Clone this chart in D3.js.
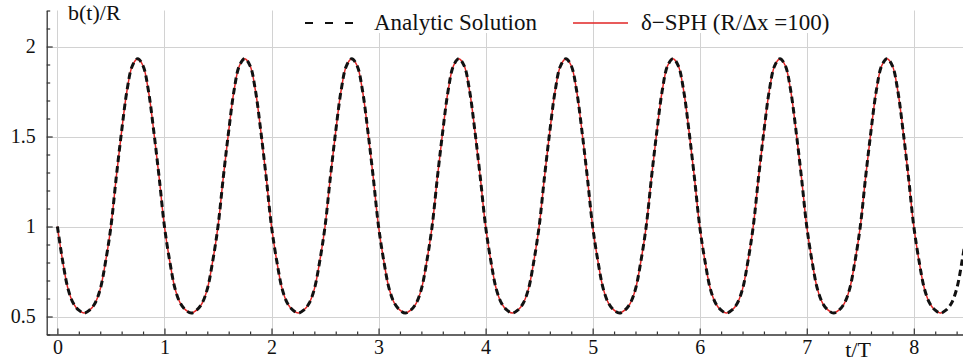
<!DOCTYPE html>
<html>
<head>
<meta charset="utf-8">
<script src="https://cdn.jsdelivr.net/npm/d3@7"></script>
<style>
  body { margin: 0; background: #fff; }
  svg { display: block; }
  text { font-family: "Liberation Serif", "Times New Roman", serif; fill: #111; }
</style>
</head>
<body>
<svg id="chart" width="963" height="363"></svg>
<script>
// Non-dimensional time step between samples (t/T)
const sampleStep = 0.05;

// b(t)/R, analytic solution, one row per period (t/T = k ... k+0.95)
const analyticB = [
  [1.000,0.805,0.652,0.572,0.535,0.519,0.535,0.572,0.652,0.805,1.000,1.275,1.530,1.755,1.893,1.932,1.893,1.755,1.530,1.275],
  [1.000,0.805,0.652,0.572,0.535,0.519,0.535,0.572,0.652,0.805,1.000,1.275,1.530,1.755,1.893,1.932,1.893,1.755,1.530,1.275],
  [1.000,0.805,0.652,0.572,0.535,0.519,0.535,0.572,0.652,0.805,1.000,1.275,1.530,1.755,1.893,1.932,1.893,1.755,1.530,1.275],
  [1.000,0.805,0.652,0.572,0.535,0.519,0.535,0.572,0.652,0.805,1.000,1.275,1.530,1.755,1.893,1.932,1.893,1.755,1.530,1.275],
  [1.000,0.805,0.652,0.572,0.535,0.519,0.535,0.572,0.652,0.805,1.000,1.275,1.530,1.755,1.893,1.932,1.893,1.755,1.530,1.275],
  [1.000,0.805,0.652,0.572,0.535,0.519,0.535,0.572,0.652,0.805,1.000,1.275,1.530,1.755,1.893,1.932,1.893,1.755,1.530,1.275],
  [1.000,0.805,0.652,0.572,0.535,0.519,0.535,0.572,0.652,0.805,1.000,1.275,1.530,1.755,1.893,1.932,1.893,1.755,1.530,1.275],
  [1.000,0.805,0.652,0.572,0.535,0.519,0.535,0.572,0.652,0.805,1.000,1.275,1.530,1.755,1.893,1.932,1.893,1.755,1.530,1.275],
  [1.000,0.805,0.652,0.572,0.535,0.519,0.535,0.572,0.652,0.805,1.000]
].flat();

// b(t)/R, delta-SPH run with R/dx = 100 (ends at t/T = 8.3)
const sphB = [
  [1.000,0.805,0.652,0.572,0.535,0.519,0.535,0.572,0.652,0.805,1.000,1.275,1.530,1.755,1.893,1.932,1.893,1.755,1.530,1.275],
  [1.000,0.805,0.652,0.572,0.535,0.519,0.535,0.572,0.652,0.805,1.000,1.275,1.530,1.755,1.893,1.932,1.893,1.755,1.530,1.275],
  [1.000,0.805,0.652,0.572,0.535,0.519,0.535,0.572,0.652,0.805,1.000,1.275,1.530,1.755,1.893,1.932,1.893,1.755,1.530,1.275],
  [1.000,0.805,0.652,0.572,0.535,0.519,0.535,0.572,0.652,0.805,1.000,1.275,1.530,1.755,1.893,1.932,1.893,1.755,1.530,1.275],
  [1.000,0.805,0.652,0.572,0.535,0.519,0.535,0.572,0.652,0.805,1.000,1.275,1.530,1.755,1.893,1.932,1.893,1.755,1.530,1.275],
  [1.000,0.805,0.652,0.572,0.535,0.519,0.535,0.572,0.652,0.805,1.000,1.275,1.530,1.755,1.893,1.932,1.893,1.755,1.530,1.275],
  [1.000,0.805,0.652,0.572,0.535,0.519,0.535,0.572,0.652,0.805,1.000,1.275,1.530,1.755,1.893,1.932,1.893,1.755,1.530,1.275],
  [1.000,0.805,0.652,0.572,0.535,0.519,0.535,0.572,0.652,0.805,1.000,1.275,1.530,1.755,1.893,1.932,1.893,1.755,1.530,1.275],
  [1.000,0.805,0.652,0.572,0.535,0.519,0.535]
].flat();

// Axis ticks and labels
const xMajorTicks = [0, 1, 2, 3, 4, 5, 6, 7, 8];
const xTickLabels = ["0", "1", "2", "3", "4", "5", "6", "7", "8"];
const yMajorTicks = [0.5, 1, 1.5, 2];
const yTickLabels = ["0.5", "1", "1.5", "2"];
const xTitle = "t/T";
const yTitle = "b(t)/R";
const legendLabels = ["Analytic Solution", "\u03B4\u2212SPH (R/\u0394x =100)"];

const W = 963, H = 363;
const svg = d3.select("#chart");

const x = d3.scaleLinear().domain([-0.1, 8.5]).range([46.7, 46.7 + 8.6 * 107.05]);
const y = d3.scaleLinear().domain([0.4, 2.2]).range([334.5, 10.5]);

const xMinor = d3.range(0.2, 8.5, 0.2).filter(v => Math.abs(v - Math.round(v)) > 1e-6);
const yMinor = d3.range(0.4, 2.2001, 0.1).filter(v => Math.abs(v * 2 - Math.round(v * 2)) > 1e-6);

// Grid
const grid = svg.append("g").attr("stroke", "#d2d2d2").attr("stroke-width", 1);
grid.selectAll("line.v").data(xMajorTicks).join("line")
  .attr("x1", d => Math.round(x(d)) + 0.5).attr("x2", d => Math.round(x(d)) + 0.5)
  .attr("y1", y(2.2)).attr("y2", y(0.4));
grid.selectAll("line.h").data(yMajorTicks).join("line")
  .attr("y1", d => Math.round(y(d)) + 0.5).attr("y2", d => Math.round(y(d)) + 0.5)
  .attr("x1", x(-0.1)).attr("x2", W);

// Plot clip
svg.append("clipPath").attr("id", "plotClip").append("rect")
  .attr("x", x(-0.1)).attr("y", y(2.2)).attr("width", W - x(-0.1)).attr("height", y(0.4) - y(2.2));

const line = d3.line()
  .x((d, i) => x(i * sampleStep))
  .y(d => y(d))
  .curve(d3.curveCatmullRom.alpha(0.5));

const plot = svg.append("g").attr("clip-path", "url(#plotClip)");
plot.append("path").datum(sphB)
  .attr("d", line).attr("fill", "none")
  .attr("stroke", "#e02424").attr("stroke-width", 1.5);
plot.append("path").datum(analyticB)
  .attr("d", line).attr("fill", "none")
  .attr("stroke", "#111").attr("stroke-width", 3)
  .attr("stroke-dasharray", "6.5,4");

// Axes
function styleAxis(g) {
  g.attr("font-family", null).attr("font-size", null);
  g.selectAll("path.domain").attr("stroke", "#333").attr("stroke-width", 1.3);
  g.selectAll(".tick line").attr("stroke", "#333").attr("stroke-width", 1.2);
  g.selectAll("text").style("font-family", "'Liberation Serif', serif").style("font-size", "20px").attr("fill", "#111");
}

const xAxisG = svg.append("g").attr("transform", `translate(0,${y(0.4)})`);
xAxisG.call(d3.axisBottom(x).tickValues(xMajorTicks)
  .tickFormat((d, i) => xTickLabels[i]).tickSizeInner(-6).tickSizeOuter(0).tickPadding(5));
styleAxis(xAxisG);
const xMinorG = svg.append("g").attr("transform", `translate(0,${y(0.4)})`);
xMinorG.call(d3.axisBottom(x).tickValues(xMinor).tickFormat("").tickSizeInner(-3).tickSizeOuter(0));
xMinorG.select("path.domain").remove();
styleAxis(xMinorG);

const yAxisG = svg.append("g").attr("transform", `translate(${x(-0.1)},0)`);
yAxisG.call(d3.axisLeft(y).tickValues(yMajorTicks)
  .tickFormat((d, i) => yTickLabels[i]).tickSizeInner(-6).tickSizeOuter(0).tickPadding(11));
styleAxis(yAxisG);
const yMinorG = svg.append("g").attr("transform", `translate(${x(-0.1)},0)`);
yMinorG.call(d3.axisLeft(y).tickValues(yMinor).tickFormat("").tickSizeInner(-3.5).tickSizeOuter(0));
yMinorG.select("path.domain").remove();
styleAxis(yMinorG);

// Axis titles
svg.append("text").attr("x", 68).attr("y", 20).attr("font-size", 22).text(yTitle);
svg.append("text").attr("x", 858).attr("y", 357).attr("font-size", 22)
  .attr("text-anchor", "middle").text(xTitle);

// Legend
const legend = svg.append("g");
const items = [
  { x0: 305, x1: 355, tx: 374, stroke: "#111", width: 2, dash: "8,12" },
  { x0: 573, x1: 628, tx: 641, stroke: "#e02424", width: 1.5, dash: null }
];
items.forEach((it, i) => {
  const t = legend.append("text").attr("x", it.tx).attr("y", 29.5)
    .attr("font-size", 23).text(legendLabels[i]);
  const bb = t.node().getBBox();
  legend.insert("rect", "text")
    .attr("x", bb.x - 3).attr("y", y(2.2) - 1)
    .attr("width", bb.width + 6).attr("height", 33 - y(2.2) + 1)
    .attr("fill", "#fff");
  legend.append("line")
    .attr("x1", it.x0).attr("x2", it.x1).attr("y1", 23).attr("y2", 23)
    .attr("stroke", it.stroke).attr("stroke-width", it.width)
    .attr("stroke-dasharray", it.dash);
});
</script>
</body>
</html>
